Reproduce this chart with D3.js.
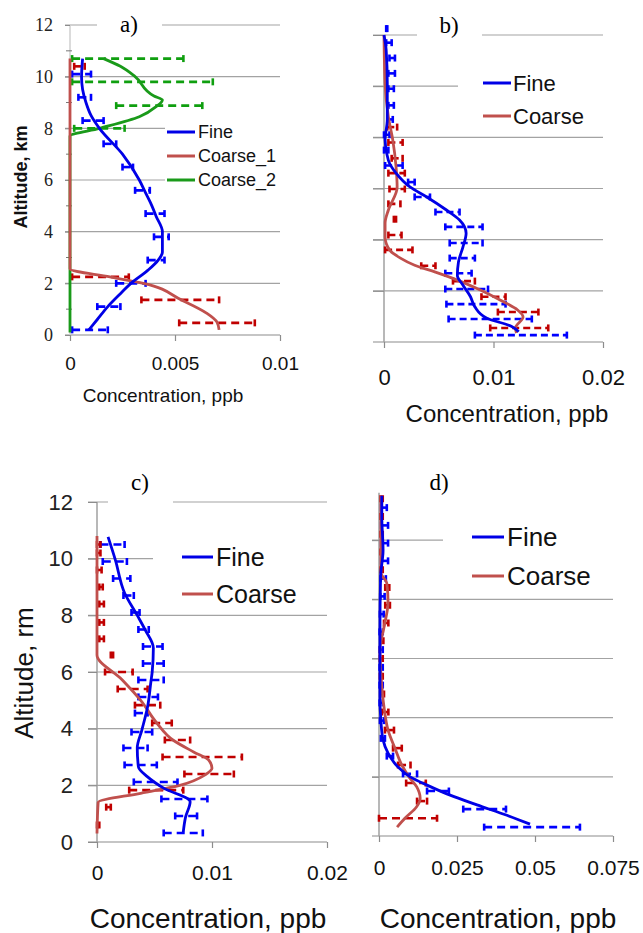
<!DOCTYPE html>
<html>
<head>
<meta charset="utf-8">
<script src="https://cdn.jsdelivr.net/npm/d3@7"></script>
<style>
  body { margin: 0; background: #fff; }
  svg { display: block; }
</style>
</head>
<body>
<svg id="chart" width="643" height="933"></svg>
<script>
// ---- data (concentration in ppb, altitude in km) ----

// panel a)
const aFineAlt  = [0.2, 0.6, 1.1, 1.6, 2.0, 2.5, 2.9, 3.2, 4.0, 4.6, 5.0, 5.5, 6.0, 7.0, 8.0, 8.5, 9.0, 9.5, 10.0, 10.7];
const aFineConc = [0.0009, 0.0013, 0.0018, 0.0024, 0.0029, 0.0037, 0.0042, 0.0044, 0.0044, 0.0041, 0.0039, 0.0036, 0.0033, 0.0025, 0.0014, 0.001, 0.00076, 0.0006, 0.00055, 0.0006];
const aFineErrAlt = [0.2, 1.1, 2.0, 2.9, 3.8, 4.7, 5.6, 6.5, 7.4, 8.3, 9.2, 10.1];
const aFineErrLo  = [0.0001, 0.0013, 0.0022, 0.0037, 0.004, 0.0036, 0.0031, 0.0025, 0.0016, 0.0006, 0.0004, 0.0001];
const aFineErrHi  = [0.0018, 0.0024, 0.0036, 0.0045, 0.0047, 0.0045, 0.0038, 0.003, 0.0022, 0.0016, 0.001, 0.001];

const aCoarse1Alt  = [0.2, 0.5, 0.85, 1.36, 2.0, 2.25, 2.56, 10.7];
const aCoarse1Conc = [0.0071, 0.007, 0.0065, 0.0053, 0.0035, 0.0019, 0, 0];
const aCoarse1ErrAlt = [0.47, 1.36, 2.25, 10.4];
const aCoarse1ErrLo  = [0.0052, 0.0034, 0.0001, 0.0002];
const aCoarse1ErrHi  = [0.0088, 0.0071, 0.0028, 0.0007];

const aCoarse2Alt  = [0.1, 7.7, 8.0, 8.45, 8.84, 9.1, 9.25, 10.0, 10.4, 10.7];
const aCoarse2Conc = [0, 0, 0.0014, 0.0033, 0.0041, 0.0044, 0.004, 0.0031, 0.0024, 0.0016];
const aCoarse2ErrAlt = [8.0, 8.88, 9.8, 10.7];
const aCoarse2ErrLo  = [0.0002, 0.0022, 0.0001, 0.0001];
const aCoarse2ErrHi  = [0.0026, 0.0063, 0.0068, 0.0054];

// panel b)
const bFineAlt  = [0.4, 0.6, 0.93, 1.37, 1.77, 2.23, 2.6, 3.13, 3.7, 4.25, 4.77, 5.16, 5.67, 6.05, 6.6, 7.1, 7.9, 8.7, 10.1, 11.4, 12.0];
const bFineConc = [0.0123, 0.0117, 0.0094, 0.0083, 0.0079, 0.0072, 0.0067, 0.0068, 0.0072, 0.0075, 0.0069, 0.0057, 0.0039, 0.0024, 0.0011, 0.0004, 0.0001, 0.0003, 0.0003, 0.0002, 0.0];
const bFineErrAlt = [0.27, 0.9, 1.48, 2.07, 2.69, 3.28, 3.87, 4.5, 5.08, 5.67, 6.25, 6.9, 7.5, 8.1, 8.7, 9.25, 9.9, 10.5, 11.1, 11.7, 12.25];
const bFineErrLo  = [0.0083, 0.0059, 0.0057, 0.0056, 0.0056, 0.006, 0.006, 0.0056, 0.0047, 0.0028, 0.0022, 0.0001, 0.0, 0.0, 0.0003, 0.0004, 0.0004, 0.0004, 0.0005, 0.0002, 0.0002];
const bFineErrHi  = [0.0167, 0.0135, 0.0111, 0.0095, 0.008, 0.0083, 0.009, 0.009, 0.0069, 0.0042, 0.0028, 0.0017, 0.0004, 0.0005, 0.0008, 0.0009, 0.0009, 0.001, 0.001, 0.0007, 0.0003];

const bCoarseAlt  = [0.35, 0.55, 0.98, 1.25, 1.64, 2.03, 2.42, 2.73, 3.0, 3.28, 3.6, 4.1, 4.65, 5.16, 6.05, 6.85, 7.9, 8.8, 10.1, 12.0];
const bCoarseConc = [0.0121, 0.012, 0.0127, 0.0122, 0.0106, 0.0088, 0.0067, 0.0047, 0.0028, 0.0015, 0.0005, 0.0001, 0.0001, 0.0004, 0.0012, 0.0011, 0.0008, 0.0004, 0.0001, 0.0];
const bCoarseErrAlt = [0.55, 1.17, 1.77, 2.38, 2.98, 3.6, 4.18, 4.8, 5.4, 5.98, 6.6, 7.18, 7.8, 8.4];
const bCoarseErrLo  = [0.0097, 0.0104, 0.0089, 0.0063, 0.0034, 0.0001, 0.0004, 0.0009, 0.0004, 0.0005, 0.0004, 0.0007, 0.0004, 0.0003];
const bCoarseErrHi  = [0.015, 0.0141, 0.0111, 0.0083, 0.0047, 0.0026, 0.0016, 0.0011, 0.0015, 0.0019, 0.0019, 0.0017, 0.0017, 0.0012];

// panel c)
const cFineAlt  = [0.35, 0.88, 1.42, 1.9, 2.3, 2.65, 3.32, 3.95, 4.77, 5.7, 6.0, 6.85, 7.48, 8.0, 8.79, 9.95, 10.77];
const cFineConc = [0.0075, 0.0077, 0.0081, 0.0058, 0.0044, 0.0036, 0.0035, 0.0039, 0.0044, 0.0047, 0.0048, 0.0049, 0.0042, 0.0035, 0.0024, 0.0016, 0.00096];
const cFineErrAlt = [0.32, 0.92, 1.52, 2.12, 2.72, 3.32, 3.88, 4.55, 5.12, 5.72, 6.3, 6.9, 7.5, 8.1, 8.7, 9.3, 9.9, 10.5];
const cFineErrLo  = [0.0058, 0.0068, 0.0056, 0.0032, 0.0024, 0.0023, 0.003, 0.0033, 0.0036, 0.0036, 0.004, 0.004, 0.0036, 0.003, 0.0023, 0.0014, 0.0005, 0.0003];
const cFineErrHi  = [0.0092, 0.0087, 0.0096, 0.007, 0.0052, 0.0044, 0.0048, 0.0044, 0.0053, 0.0058, 0.0058, 0.0057, 0.0045, 0.0037, 0.0032, 0.0029, 0.0026, 0.0024];

const cCoarseAlt  = [0.3, 1.4, 1.72, 2.0, 2.37, 2.6, 2.9, 3.18, 3.6, 4.2, 5.0, 5.72, 6.6, 10.8];
const cCoarseConc = [0, 0.0001, 0.0038, 0.0072, 0.0094, 0.01, 0.0097, 0.0084, 0.0066, 0.0052, 0.0038, 0.0022, 0, 0];
const cCoarseErrAlt = [0.6, 1.23, 1.83, 2.4, 3.0, 3.6, 4.2, 4.83, 5.4, 6.0, 6.6, 7.17, 7.75, 8.4, 9.0, 9.6, 10.2, 10.5];
const cCoarseErrLo  = [0, 0.0008, 0.0028, 0.0076, 0.0057, 0.0059, 0.0048, 0.0033, 0.0018, 0.0007, 0.0012, 0.0002, 0.0002, 0.0002, 0.0002, 0.0, 0.0, 0.0];
const cCoarseErrHi  = [0.0002, 0.0012, 0.0075, 0.0119, 0.0126, 0.0081, 0.0065, 0.0055, 0.0044, 0.0031, 0.0014, 0.0006, 0.0006, 0.0006, 0.0005, 0.0004, 0.0003, 0.0003];

// panel d)
const dFineAlt  = [0.4, 0.7, 1.05, 1.38, 1.72, 2.0, 2.33, 2.8, 3.25, 3.9, 4.7, 6.86, 8.75, 9.66, 10.8, 11.5];
const dFineConc = [0.0484, 0.041, 0.0314, 0.0228, 0.0154, 0.01, 0.0061, 0.0029, 0.0013, 0.0006, 0.0003, 0.0003, 0.0005, 0.0013, 0.0009, 0.0009];
const dFineErrAlt = [0.3, 0.91, 1.52, 2.1, 2.7, 3.3, 3.9, 4.5, 5.1, 5.7, 6.3, 6.9, 7.5, 8.1, 8.7, 9.3, 9.9, 10.5, 11.1];
const dFineErrLo  = [0.0337, 0.027, 0.0154, 0.0077, 0.0025, 0.0006, 0.0003, 0.0002, 0.0002, 0.0002, 0.0002, 0.0002, 0.0003, 0.0004, 0.0005, 0.0007, 0.0007, 0.0007, 0.0007];
const dFineErrHi  = [0.0644, 0.0407, 0.0224, 0.0122, 0.0045, 0.0019, 0.0016, 0.0012, 0.0012, 0.0012, 0.0012, 0.0012, 0.0015, 0.0018, 0.0022, 0.0029, 0.0029, 0.0029, 0.0025];

const dCoarseAlt  = [0.3, 0.6, 0.98, 1.28, 1.66, 2.0, 2.4, 2.97, 3.58, 4.36, 5.5, 6.3, 7.06, 7.9, 8.55, 8.9, 9.66, 11.5];
const dCoarseConc = [0.0058, 0.0083, 0.012, 0.0132, 0.0121, 0.0096, 0.0073, 0.0051, 0.0029, 0.0016, 0.0006, 0.0003, 0.0016, 0.0029, 0.0025, 0.0006, 0.0006, 0.0006];
const dCoarseErrAlt = [0.6, 1.18, 1.79, 2.4, 2.97, 3.58, 4.19, 4.8, 5.4, 6.0, 6.6, 7.2, 7.8, 8.4, 9.0, 9.6, 10.2, 10.8, 11.4];
const dCoarseErrLo  = [0, 0.0122, 0.0087, 0.0061, 0.0045, 0.0019, 0.0009, 0.0004, 0.0003, 0.0003, 0.0005, 0.0016, 0.002, 0.002, 0.0005, 0.0005, 0.0005, 0.0005, 0.0005];
const dCoarseErrHi  = [0.0186, 0.0154, 0.015, 0.0101, 0.0073, 0.0048, 0.003, 0.0016, 0.0012, 0.0012, 0.0014, 0.003, 0.0035, 0.0033, 0.0012, 0.0012, 0.0012, 0.0012, 0.0012];

// ticks
const altTicks = [0, 2, 4, 6, 8, 10, 12];
const aXTicks = [0, 0.005, 0.01];
const aXLabels = ["0", "0.005", "0.01"];
const bcXTicks = [0, 0.01, 0.02];
const bcXLabels = ["0", "0.01", "0.02"];
const dXTicks = [0, 0.025, 0.05, 0.075];
const dXLabels = ["0", "0.025", "0.05", "0.075"];

// ---- colours ----
const FINE = "#0000e6", FINE_BAR = "#0000ff";
const COARSE = "#c0504d", COARSE_BAR = "#c00000";
const GREEN = "#1a9a1a", GREEN_BAR = "#0f9f0f";
const SANS = "'Liberation Sans', Arial, sans-serif";
const SERIF = "'Liberation Serif', 'Times New Roman', serif";

const svg = d3.select("#chart");

function series(alt, conc, eAlt, eLo, eHi, color, barColor, name) {
    return {
        name, color, barColor,
        line: alt.map((a, i) => ({ alt: a, c: conc[i] })),
        bars: eAlt.map((a, i) => ({ alt: a, lo: eLo[i], hi: eHi[i] }))
    };
}

function drawPanel(p) {
    const x = d3.scaleLinear().domain([0, p.xMax]).range([p.left, p.right]);
    const y = d3.scaleLinear().domain([0, 12]).range([p.bottom, p.top]);
    const g = svg.append("g");

    // gridlines
    g.selectAll(".grid")
        .data(p.gridVals)
        .enter()
        .append("line")
        .attr("x1", p.gridLeft)
        .attr("x2", p.right)
        .attr("y1", d => y(d))
        .attr("y2", d => y(d))
        .attr("stroke", "#a3a3a3")
        .attr("stroke-width", 1.2);

    // title with white box breaking the top gridline
    g.append("rect")
        .attr("x", p.titleBox[0]).attr("y", y(12) - 12)
        .attr("width", p.titleBox[1] - p.titleBox[0]).attr("height", 24)
        .attr("fill", "#fff");
    g.append("text")
        .attr("x", p.titleX).attr("y", p.titleY)
        .attr("text-anchor", "middle")
        .attr("font-family", SERIF)
        .attr("font-size", p.titleSize)
        .text(p.title);

    // legend box
    g.append("rect")
        .attr("x", p.legBox[0]).attr("y", p.legBox[1])
        .attr("width", p.legBox[2]).attr("height", p.legBox[3])
        .attr("fill", "#fff");

    // X axis
    const xAxis = g.append("g")
        .attr("transform", `translate(0,${p.bottom})`)
        .call(d3.axisBottom(x)
            .tickValues(p.xTicks)
            .tickFormat((d, i) => p.xLabels[i])
            .tickSize(6)
            .tickSizeOuter(0));
    xAxis.select(".domain")
        .attr("d", `M${p.gridLeft},0H${p.right}`)
        .attr("stroke", "#8c8c8c").attr("stroke-width", 1.2);
    xAxis.selectAll(".tick line").attr("stroke", "#8c8c8c").attr("stroke-width", 1.2);
    xAxis.selectAll(".tick text")
        .attr("y", p.xLabelY - p.bottom)
        .attr("dy", 0)
        .attr("fill", "#111")
        .attr("font-family", SANS)
        .attr("font-size", p.xFont);

    // Y axis
    const yAxis = g.append("g")
        .attr("transform", `translate(${p.left},0)`)
        .call(d3.axisLeft(y)
            .tickValues(p.yLabels ? altTicks : p.gridVals)
            .tickFormat(p.yLabels ? d3.format("d") : () => "")
            .tickSize(p.left - p.gridLeft)
            .tickPadding(p.yPad || 6)
            .tickSizeOuter(0));
    yAxis.select(".domain")
        .attr("d", `M0,${y(p.axisTop)}V${p.bottom}`)
        .attr("stroke", p.axisColor).attr("stroke-width", 1.5);
    yAxis.selectAll(".tick line").attr("stroke", "#8c8c8c");
    yAxis.selectAll(".tick text")
        .attr("fill", "#222")
        .attr("font-family", p.yFontFamily)
        .attr("font-size", p.yFont);

    // minor ticks
    if (p.minor) {
        g.selectAll(".minor")
            .data(p.minor)
            .enter()
            .append("line")
            .attr("x1", p.left - 4).attr("x2", p.left + 2)
            .attr("y1", d => y(d)).attr("y2", d => y(d))
            .attr("stroke", "#777");
    }

    // error bars
    p.series.forEach(s => {
        const bars = g.append("g");
        bars.selectAll(".bar")
            .data(s.bars)
            .enter()
            .append("line")
            .attr("x1", d => x(d.lo)).attr("x2", d => x(d.hi))
            .attr("y1", d => y(d.alt)).attr("y2", d => y(d.alt))
            .attr("stroke", s.barColor)
            .attr("stroke-width", 2.6)
            .attr("stroke-dasharray", p.dash);
        ["lo", "hi"].forEach(k => {
            bars.selectAll(".cap-" + k)
                .data(s.bars)
                .enter()
                .append("line")
                .attr("x1", d => x(d[k])).attr("x2", d => x(d[k]))
                .attr("y1", d => y(d.alt) - 3.5).attr("y2", d => y(d.alt) + 3.5)
                .attr("stroke", s.barColor)
                .attr("stroke-width", 2.6);
        });
    });

    // profile curves
    const line = d3.line()
        .x(d => x(d.c))
        .y(d => y(d.alt))
        .curve(d3.curveMonotoneY);
    p.series.slice().reverse().forEach(s => {
        g.append("path")
            .datum(s.line)
            .attr("d", line)
            .attr("fill", "none")
            .attr("stroke", s.color)
            .attr("stroke-width", 2.8);
    });

    // legend entries
    p.series.forEach((s, i) => {
        const ly = p.legRows[i];
        g.append("line")
            .attr("x1", p.legLine[0]).attr("x2", p.legLine[1])
            .attr("y1", ly).attr("y2", ly)
            .attr("stroke", s.color)
            .attr("stroke-width", 3);
        g.append("text")
            .attr("x", p.legText)
            .attr("y", ly + p.legFont * 0.36)
            .attr("font-family", SANS)
            .attr("font-size", p.legFont)
            .attr("fill", "#111")
            .text(s.name);
    });

    // X axis label
    g.append("text")
        .attr("x", p.xTitleX).attr("y", p.xTitleY)
        .attr("text-anchor", "middle")
        .attr("font-family", SANS)
        .attr("font-size", p.xTitleSize)
        .attr("fill", "#111")
        .text("Concentration, ppb");

    // Y axis label
    if (p.yTitle) {
        g.append("text")
            .attr("transform", `translate(${p.yTitleX},${p.yTitleY}) rotate(-90)`)
            .attr("text-anchor", "middle")
            .attr("font-family", SANS)
            .attr("font-size", p.yTitleSize)
            .attr("font-weight", p.yTitleWeight)
            .attr("fill", "#111")
            .text(p.yTitle);
    }
}

drawPanel({
    left: 70, right: 280, top: 25, bottom: 335, gridLeft: 65, xMax: 0.01,
    gridVals: [2, 4, 6, 8, 10, 12], axisTop: 12, axisColor: "#cfcfcf",
    minor: [1, 3, 5, 7, 9, 11],
    xTicks: aXTicks, xLabels: aXLabels, xLabelY: 370, xFont: 19,
    yLabels: true, yFont: 18, yFontFamily: SERIF, yPad: 12,
    title: "a)", titleX: 129, titleY: 32, titleSize: 23, titleBox: [97, 162],
    legBox: [165, 118, 117, 74], legRows: [132, 156, 180], legLine: [167, 195], legText: 198, legFont: 18,
    xTitleX: 163, xTitleY: 402, xTitleSize: 19,
    yTitle: "Altitude, km", yTitleX: 27, yTitleY: 177, yTitleSize: 18, yTitleWeight: "bold",
    dash: "8,5",
    series: [
        series(aFineAlt, aFineConc, aFineErrAlt, aFineErrLo, aFineErrHi, FINE, FINE_BAR, "Fine"),
        series(aCoarse1Alt, aCoarse1Conc, aCoarse1ErrAlt, aCoarse1ErrLo, aCoarse1ErrHi, COARSE, COARSE_BAR, "Coarse_1"),
        series(aCoarse2Alt, aCoarse2Conc, aCoarse2ErrAlt, aCoarse2ErrLo, aCoarse2ErrHi, GREEN, GREEN_BAR, "Coarse_2")
    ]
});

drawPanel({
    left: 384, right: 603, top: 35, bottom: 342, gridLeft: 373, xMax: 0.02,
    gridVals: [2, 4, 6, 8, 10, 12], axisTop: 12, axisColor: "#a0a0a0",
    xTicks: bcXTicks, xLabels: bcXLabels, xLabelY: 385, xFont: 22,
    yLabels: false, yFont: 1, yFontFamily: SANS,
    title: "b)", titleX: 449, titleY: 33, titleSize: 23, titleBox: [417, 482],
    legBox: [458, 62, 145, 70], legRows: [83, 116], legLine: [483, 511], legText: 513, legFont: 22,
    xTitleX: 507, xTitleY: 422, xTitleSize: 24,
    dash: "7,4",
    series: [
        series(bFineAlt, bFineConc, bFineErrAlt, bFineErrLo, bFineErrHi, FINE, FINE_BAR, "Fine"),
        series(bCoarseAlt, bCoarseConc, bCoarseErrAlt, bCoarseErrLo, bCoarseErrHi, COARSE, COARSE_BAR, "Coarse")
    ]
});

drawPanel({
    left: 97, right: 327, top: 502, bottom: 842, gridLeft: 88, xMax: 0.02,
    gridVals: [2, 4, 6, 8, 10, 12], axisTop: 12, axisColor: "#a0a0a0",
    xTicks: bcXTicks, xLabels: bcXLabels, xLabelY: 880, xFont: 21,
    yLabels: true, yFont: 22, yFontFamily: SANS, yPad: 15,
    title: "c)", titleX: 140, titleY: 490, titleSize: 23, titleBox: [108, 173],
    legBox: [153, 535, 174, 75], legRows: [557, 594], legLine: [182, 213], legText: 216, legFont: 25,
    xTitleX: 208, xTitleY: 928, xTitleSize: 28,
    yTitle: "Altitude, rm", yTitleX: 33, yTitleY: 673, yTitleSize: 26, yTitleWeight: "normal",
    dash: "8,5",
    series: [
        series(cFineAlt, cFineConc, cFineErrAlt, cFineErrLo, cFineErrHi, FINE, FINE_BAR, "Fine"),
        series(cCoarseAlt, cCoarseConc, cCoarseErrAlt, cCoarseErrLo, cCoarseErrHi, COARSE, COARSE_BAR, "Coarse")
    ]
});

drawPanel({
    left: 379, right: 613, top: 481, bottom: 836, gridLeft: 372, xMax: 0.075,
    gridVals: [2, 4, 6, 8, 10], axisTop: 11.6, axisColor: "#a0a0a0",
    xTicks: dXTicks, xLabels: dXLabels, xLabelY: 875, xFont: 21,
    yLabels: false, yFont: 1, yFontFamily: SANS,
    title: "d)", titleX: 439, titleY: 490, titleSize: 23, titleBox: [410, 468],
    legBox: [443, 512, 171, 84], legRows: [537, 576], legLine: [472, 504], legText: 507, legFont: 26,
    xTitleX: 498, xTitleY: 928, xTitleSize: 28,
    dash: "8,5",
    series: [
        series(dFineAlt, dFineConc, dFineErrAlt, dFineErrLo, dFineErrHi, FINE, FINE_BAR, "Fine"),
        series(dCoarseAlt, dCoarseConc, dCoarseErrAlt, dCoarseErrLo, dCoarseErrHi, COARSE, COARSE_BAR, "Coarse")
    ]
});
</script>
</body>
</html>
